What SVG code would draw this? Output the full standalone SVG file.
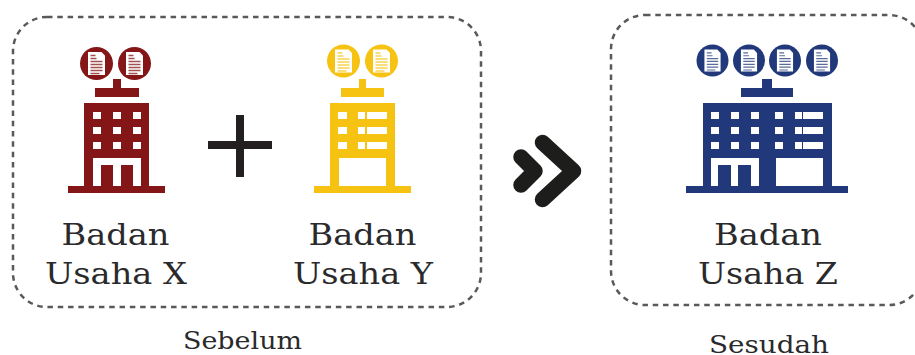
<svg xmlns="http://www.w3.org/2000/svg" width="915" height="355" viewBox="0 0 915 355">
<style>
.box{fill:none;stroke:#58595b;stroke-width:2.5;stroke-dasharray:5.500 4.800}
.t{font-family:"DejaVu Serif","Liberation Serif",serif;font-size:30px;fill:#2a2a2c;text-anchor:middle}
.c{font-family:"DejaVu Serif","Liberation Serif",serif;font-size:25px;fill:#2a2a2c;text-anchor:middle}
.w{fill:#fff}
.dl{stroke:currentColor;stroke-width:1.300;fill:none;stroke-opacity:.75}
</style>
<defs>
<g id="doc"><path class="w" d="M-8.500-11.500H5L8.500-8V11.500H-8.500Z"/><path class="dl" d="M-6-8h5M-6-5h6M-6-2H6M-6 1H6M-6 4H6M-6 7H6M-6 10H3"/></g>
</defs>
<g id="box-sebelum"><rect class="box" x="13" y="17" width="468" height="290" rx="34"/></g>
<g id="box-sesudah"><rect class="box" x="611" y="15" width="312" height="290" rx="34"/></g>
<g id="x" fill="#841618" color="#841618">
<circle cx="96.500" cy="63.500" r="16.500"/><circle cx="134.500" cy="63.500" r="16.500"/>
<use href="#doc" transform="translate(96.500 63.500)"/><use href="#doc" transform="translate(134.500 63.500)"/>
<path d="M113 79h8v9h18v9H95v-9h18ZM84 103h65v83h16v7H68v-7h16Z"/>
<path class="w" d="M93 112h8v7h-8ZM113 112h8v7h-8ZM133 112h8v7h-8ZM93 127h8v7h-8ZM113 127h8v7h-8ZM133 127h8v7h-8ZM93 142h8v7h-8ZM113 142h8v7h-8ZM133 142h8v7h-8ZM93 158h48v28h-8v-21h-12v21h-8v-21h-12v21h-8Z"/>
</g>
<g id="y" fill="#f6c313" color="#f6c313">
<circle cx="343.500" cy="61" r="16.500"/><circle cx="381.500" cy="61" r="16.500"/>
<use href="#doc" transform="translate(343.500 61)"/><use href="#doc" transform="translate(381.500 61)"/>
<path d="M359 79h7v9h18v9h-43v-9h18ZM330 103h65v83h16v7h-97v-7h16Z"/>
<path class="w" d="M338 112h9v7h-9ZM358 112h7v7h-7ZM367 112h20v7h-20ZM338 127h9v7h-9ZM358 127h7v7h-7ZM367 127h20v7h-20ZM338 142h9v7h-9ZM358 142h7v7h-7ZM367 142h20v7h-20ZM339 158h47v28h-47Z"/>
</g>
<g id="z" fill="#21387a" color="#21387a">
<circle cx="712.500" cy="60.500" r="16"/><circle cx="749" cy="60.500" r="16"/><circle cx="785" cy="60.500" r="16"/><circle cx="822" cy="60.500" r="16"/>
<use href="#doc" transform="translate(712.500 60.500) scale(.95)"/><use href="#doc" transform="translate(749 60.500) scale(.95)"/><use href="#doc" transform="translate(785 60.500) scale(.95)"/><use href="#doc" transform="translate(822 60.500) scale(.95)"/>
<path d="M762 79h10v9h21v9h-52v-9h21ZM703 103h129v83h16v7H686v-7h17Z"/>
<path class="w" d="M711 112h8v7h-8ZM731 112h8v7h-8ZM751 112h8v7h-8ZM775 112h8v7h-8ZM795 112h7v7h-7ZM803 112h20v7h-20ZM711 127h8v7h-8ZM731 127h8v7h-8ZM751 127h8v7h-8ZM775 127h8v7h-8ZM795 127h7v7h-7ZM803 127h20v7h-20ZM711 142h8v7h-8ZM731 142h8v7h-8ZM751 142h8v7h-8ZM775 142h8v7h-8ZM795 142h7v7h-7ZM803 142h20v7h-20ZM711 158h48v28h-8v-21h-13v21h-7v-21h-13v21h-7ZM776 158h47v28h-47Z"/>
</g>
<g id="plus"><path d="M240 115v62M208 145h64" stroke="#231f20" stroke-width="8" fill="none"/></g>
<g id="connectors"><path d="M521 157l14 14-14 14M542.500 142.500l31 28.500-31 28.500" stroke="#1d1d1b" stroke-width="15.500" stroke-linecap="round" stroke-linejoin="round" fill="none"/></g>
<g id="labels">
<text class="t" x="115.500" y="245" textLength="108" lengthAdjust="spacingAndGlyphs">Badan</text><text class="t" x="116" y="284" textLength="142" lengthAdjust="spacingAndGlyphs">Usaha X</text>
<text class="t" x="362.500" y="245" textLength="108" lengthAdjust="spacingAndGlyphs">Badan</text><text class="t" x="363" y="284" textLength="140" lengthAdjust="spacingAndGlyphs">Usaha Y</text>
<text class="t" x="768" y="245" textLength="108" lengthAdjust="spacingAndGlyphs">Badan</text><text class="t" x="768" y="284" textLength="140" lengthAdjust="spacingAndGlyphs">Usaha Z</text>
<text class="c" x="242.500" y="349" textLength="119" lengthAdjust="spacingAndGlyphs">Sebelum</text><text class="c" x="769" y="353" textLength="120" lengthAdjust="spacingAndGlyphs">Sesudah</text>
</g>
</svg>
